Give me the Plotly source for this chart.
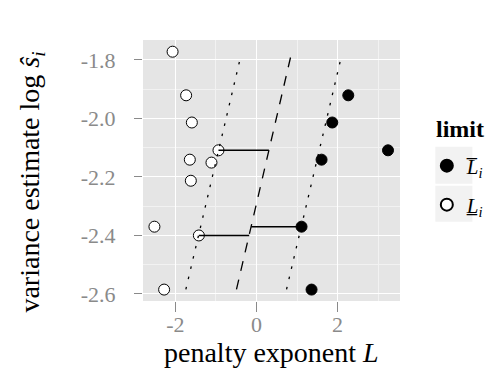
import plotly.graph_objects as go

# ---- data ----
lower_L = [-2.07, -1.736, -1.595, -0.938, -1.645, -1.111, -1.62, -2.518, -1.422, -2.279]
lower_s = [-1.772, -1.921, -2.014, -2.109, -2.141, -2.151, -2.213, -2.370, -2.400, -2.585]
upper_L = [2.264, 1.869, 3.244, 1.605, 1.111, 1.358]
upper_s = [-1.921, -2.014, -2.109, -2.141, -2.370, -2.585]

dotted_left_L = [-1.743, -0.41]
dotted_left_s = [-2.584, -1.80]
dashed_L = [-0.494, 0.874]
dashed_s = [-2.584, -1.771]
dotted_right_L = [0.741, 2.074]
dotted_right_s = [-2.584, -1.80]

seg_s = [-2.109, -2.370, -2.400]
seg_L0 = [-0.938, -0.131, -1.422]
seg_L1 = [0.305, 1.111, -0.180]

x_ticks = [-2, 0, 2]
x_ticktext = ["-2", "0", "2"]
x_minor = [-1, 1, 3]
y_ticks = [-2.6, -2.4, -2.2, -2.0, -1.8]
y_ticktext = ["-2.6", "-2.4", "-2.2", "-2.0", "-1.8"]
y_minor = [-2.5, -2.3, -2.1, -1.9]

# ---- layout geometry (pixels) ----
W, H = 495, 369
PL, PR, PT, PB = 135, 391.7, 32.3, 293.3
PW, PH = PR - PL, PB - PT


def px(x):
    return (x - PL) / PW


def py(y):
    return (PB - y) / PH


FONT = "Liberation Serif"
GREY = "#8a8a8a"

fig = go.Figure()

fig.add_trace(go.Scatter(
    x=upper_L, y=upper_s, mode="markers", name="<i>L\u0305</i><sub><i>i</i></sub>",
    legend="legend",
    marker=dict(size=11, color="black", line=dict(color="black", width=1)),
))
fig.add_trace(go.Scatter(
    x=lower_L, y=lower_s, mode="markers", name="<i>L\u0332</i><sub><i>i</i></sub>",
    legend="legend2",
    marker=dict(size=11, color="white", line=dict(color="black", width=1)),
))

line_style = dict(color="black", width=1.3)
fig.add_trace(go.Scatter(x=dotted_left_L, y=dotted_left_s, mode="lines", showlegend=False,
                         line=dict(line_style, dash="2.5px,8px")))
fig.add_trace(go.Scatter(x=dotted_right_L, y=dotted_right_s, mode="lines", showlegend=False,
                         line=dict(line_style, dash="2.5px,8px")))
fig.add_trace(go.Scatter(x=dashed_L, y=dashed_s, mode="lines", showlegend=False,
                         line=dict(line_style, dash="10px,9px")))

sx, sy = [], []
for a, b, s in zip(seg_L0, seg_L1, seg_s):
    sx += [a, b, None]
    sy += [s, s, None]
fig.add_trace(go.Scatter(x=sx, y=sy, mode="lines", showlegend=False,
                         line=dict(color="black", width=1.4)))

axis_common = dict(
    showline=False, zeroline=False, ticks="outside", tickwidth=1,
    tickcolor=GREY, showgrid=True, gridcolor="white", gridwidth=1.3,
    tickfont=dict(family=FONT, size=22, color=GREY),
)
fig.update_xaxes(range=[-2.80, 3.54], tickvals=x_ticks, ticktext=x_ticktext,
                 minor=dict(tickvals=x_minor, showgrid=True, gridcolor="#F2F2F2",
                            gridwidth=0.6, ticks=""),
                 ticklen=10, ticklabelstandoff=-6, **axis_common)
fig.update_yaxes(range=[-2.624, -1.732], tickvals=y_ticks, ticktext=y_ticktext,
                 minor=dict(tickvals=y_minor, showgrid=True, gridcolor="#F2F2F2",
                            gridwidth=0.6, ticks=""),
                 ticklen=8, ticklabelstandoff=14, **axis_common)

# legend key backgrounds
shapes = []
for (y0, y1) in [(139, 176), (178, 214)]:
    shapes.append(dict(type="rect", xref="paper", yref="paper",
                       x0=px(427), x1=px(464), y0=py(y1), y1=py(y0),
                       fillcolor="#F2F2F2", line=dict(width=0), layer="below"))

annotations = [
    dict(text="penalty exponent <i>L</i>", xref="paper", yref="paper",
         x=px(263.4), y=py(345), xanchor="center", yanchor="middle", showarrow=False,
         font=dict(family=FONT, size=28, color="black")),
    dict(text="variance estimate log <i>\u015d</i><sub><i>i</i></sub>", xref="paper", yref="paper",
         x=px(24), y=py(174), xanchor="center", yanchor="middle", showarrow=False,
         textangle=-90, font=dict(family=FONT, size=28, color="black")),
    dict(text="<b>limit</b>", xref="paper", yref="paper",
         x=px(426), y=py(121), xanchor="left", yanchor="middle", showarrow=False,
         font=dict(family=FONT, size=24, color="black")),
]

leg_common = dict(
    font=dict(family=FONT, size=21, color="black"),
    x=px(418.5), xanchor="left", yanchor="middle",
    bgcolor="rgba(0,0,0,0)", itemsizing="constant",
)

fig.update_layout(
    width=W, height=H,
    margin=dict(l=PL, r=W - PR, t=PT, b=H - PB, autoexpand=False),
    paper_bgcolor="white", plot_bgcolor="#E5E5E5",
    showlegend=True,
    legend=dict(leg_common, y=py(158.3)),
    legend2=dict(leg_common, y=py(197.3)),
    shapes=shapes, annotations=annotations,
)

fig.write_html("out.html")
